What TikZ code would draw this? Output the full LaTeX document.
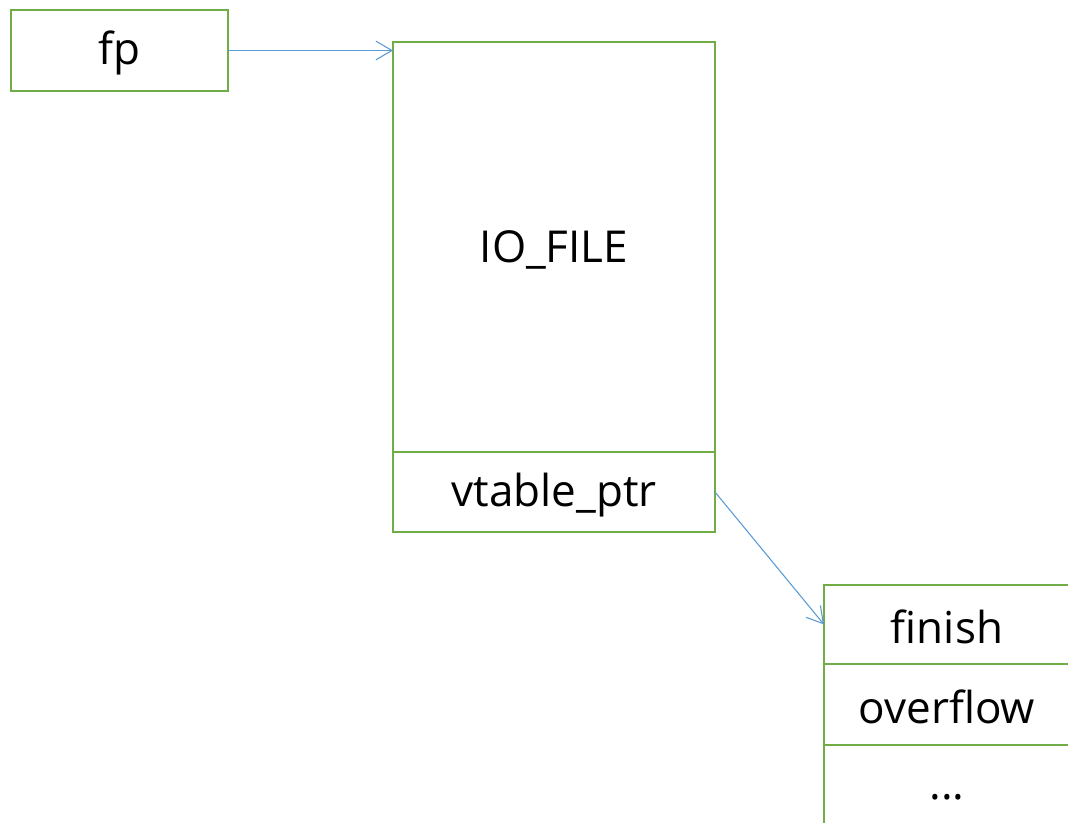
\documentclass[tikz,border=0pt]{standalone}
\usepackage{fontspec}
\setmainfont{Open Sans}
\usetikzlibrary{arrows.meta}
\definecolor{boxgreen}{HTML}{70AD47}
\definecolor{arrowblue}{HTML}{5B9BD5}
\newcommand{\celltext}[1]{\raisebox{-2pt}[\height][\depth]{#1}}
\begin{document}
\begin{tikzpicture}[x=0.75pt,y=-0.75pt,
  cell/.style={draw=boxgreen,line width=2pt,rectangle,inner sep=0pt,outer sep=0pt,
    font=\fontsize{33}{38}\selectfont,text=black},
  link/.style={draw=arrowblue,line width=0.8pt,-{Straight Barb[length=12pt,width=14pt,line width=0.8pt]}}]
\fill[white] (0,0) rectangle (1068,823);
\useasboundingbox (0,0) rectangle (1068,823);
\clip (0,0) rectangle (1068,823);
\node[cell,minimum width=162.75pt,minimum height=60.75pt] (fp) at (119.5,50.5) {\celltext{fp}};
\node[cell,minimum width=241.5pt,minimum height=307.5pt] (io) at (554,247) {\celltext{IO\_FILE}};
\node[cell,minimum width=241.5pt,minimum height=60pt] (vt) at (554,492) {\celltext{vtable\_ptr}};
\node[cell,minimum width=184.5pt,minimum height=59.25pt] (fin) at (947,624.5) {\celltext{finish}};
\node[cell,minimum width=184.5pt,minimum height=60.75pt] (ovf) at (947,704.5) {\celltext{overflow}};
\node[cell,minimum width=184.5pt,minimum height=75pt] (dots) at (947,795) {\celltext{...}};
\draw[link] (fp.east) -- (fp.east -| io.west);
\draw[link] (vt.east) -- (fin.west);
\end{tikzpicture}
\end{document}
